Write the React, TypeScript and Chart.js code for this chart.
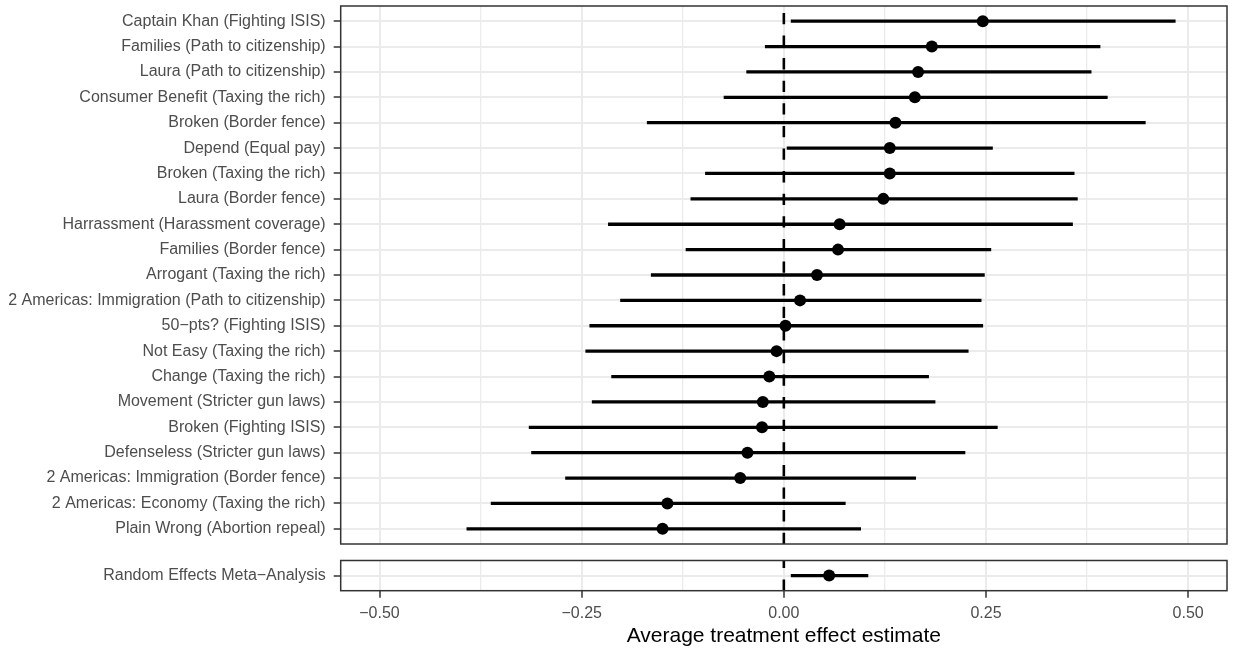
import React, { useEffect, useRef } from "react";
import { Chart, registerables } from "chart.js";

Chart.register(...registerables);

const FONT = "'Liberation Sans', Arial, Helvetica, sans-serif";
const AXIS_TEXT = "#4D4D4D";
const GRID = "#EBEBEB";
const DARK = "#333333";

const studyLabels = [
  "Captain Khan (Fighting ISIS)",
  "Families (Path to citizenship)",
  "Laura (Path to citizenship)",
  "Consumer Benefit (Taxing the rich)",
  "Broken (Border fence)",
  "Depend (Equal pay)",
  "Broken (Taxing the rich)",
  "Laura (Border fence)",
  "Harrassment (Harassment coverage)",
  "Families (Border fence)",
  "Arrogant (Taxing the rich)",
  "2 Americas: Immigration (Path to citizenship)",
  "50\u2212pts? (Fighting ISIS)",
  "Not Easy (Taxing the rich)",
  "Change (Taxing the rich)",
  "Movement (Stricter gun laws)",
  "Broken (Fighting ISIS)",
  "Defenseless (Stricter gun laws)",
  "2 Americas: Immigration (Border fence)",
  "2 Americas: Economy (Taxing the rich)",
  "Plain Wrong (Abortion repeal)",
];
const studyEstimates = [
  0.246, 0.183, 0.166, 0.162, 0.138, 0.131, 0.131, 0.123, 0.069, 0.067, 0.041,
  0.02, 0.002, -0.009, -0.018, -0.026, -0.027, -0.045, -0.054, -0.144, -0.15,
];
const studyLower = [
  0.009, -0.023, -0.046, -0.074, -0.169, 0.004, -0.097, -0.115, -0.217, -0.121,
  -0.164, -0.202, -0.24, -0.245, -0.213, -0.237, -0.315, -0.312, -0.27, -0.362,
  -0.392,
];
const studyUpper = [
  0.484, 0.391, 0.38, 0.4, 0.447, 0.258, 0.359, 0.363, 0.357, 0.256, 0.248,
  0.244, 0.246, 0.228, 0.179, 0.187, 0.264, 0.224, 0.163, 0.076, 0.095,
];

const metaLabels = ["Random Effects Meta\u2212Analysis"];
const metaEstimates = [0.056];
const metaLower = [0.009];
const metaUpper = [0.104];

const xMajorTicks = [-0.5, -0.25, 0, 0.25, 0.5];
const xMajorTickLabels = ["\u22120.50", "\u22120.25", "0.00", "0.25", "0.50"];
const xMinorTicks = [-0.375, -0.125, 0.125, 0.375];
const xTitle = "Average treatment effect estimate";
const X_MIN = -0.548;
const X_MAX = 0.548;
const Y_EXPAND = 0.6;

const majorIndex = (v: number) =>
  xMajorTicks.findIndex((m) => Math.abs(m - v) < 1e-9);

const panelBorder = {
  id: "panelBorder",
  afterDraw(chart: any) {
    const { ctx, chartArea: a } = chart;
    ctx.save();
    ctx.strokeStyle = DARK;
    ctx.lineWidth = 1.5;
    ctx.strokeRect(a.left, a.top, a.right - a.left, a.bottom - a.top);
    ctx.restore();
  },
};

function buildConfig(
  labels: string[],
  est: number[],
  lo: number[],
  hi: number[],
  showX: boolean,
  padding: { top: number; right: number; bottom: number; left: number }
): any {
  const n = labels.length;
  return {
    type: "scatter",
    data: {
      datasets: [
        {
          type: "scatter",
          data: est.map((v, i) => ({ x: v, y: i + 1 })),
          pointRadius: 6,
          pointHoverRadius: 6,
          pointBackgroundColor: "#000000",
          pointBorderWidth: 0,
          order: 0,
        },
        {
          type: "bar",
          indexAxis: "y",
          data: lo.map((l, i) => ({ x: [l, hi[i]], y: i + 1 })),
          backgroundColor: "#000000",
          borderWidth: 0,
          barThickness: 2.6,
          grouped: false,
          order: 1,
        },
        {
          type: "line",
          data: [
            { x: 0, y: n + Y_EXPAND },
            { x: 0, y: 1 - Y_EXPAND },
          ],
          borderColor: "#000000",
          borderWidth: 2.6,
          borderDash: [11.3, 11.3],
          pointRadius: 0,
          fill: false,
          order: 2,
        },
      ],
    },
    options: {
      responsive: false,
      animation: false,
      devicePixelRatio: 1,
      layout: { padding },
      plugins: {
        legend: { display: false },
        tooltip: { enabled: false },
        title: { display: false },
      },
      events: [],
      scales: {
        x: {
          type: "linear",
          min: X_MIN,
          max: X_MAX,
          offset: false,
          beginAtZero: false,
          afterBuildTicks: (s: any) => {
            s.ticks = [...xMajorTicks, ...xMinorTicks]
              .sort((a, b) => a - b)
              .map((v) => ({ value: v }));
          },
          afterFit: (s: any) => {
            s.height = showX ? 58.3 : 0;
            s.paddingLeft = 0;
            s.paddingRight = 0;
          },
          ticks: {
            display: showX,
            autoSkip: false,
            maxRotation: 0,
            padding: 6,
            color: AXIS_TEXT,
            font: { family: FONT, size: 16 },
            callback: (v: number) => {
              const k = majorIndex(v);
              return k >= 0 ? xMajorTickLabels[k] : "";
            },
          },
          grid: {
            color: GRID,
            offset: false,
            lineWidth: (c: any) =>
              c.tick && majorIndex(c.tick.value) >= 0 ? 2 : 1.3,
            drawTicks: showX,
            tickLength: 7,
            tickWidth: 1.5,
            tickColor: (c: any) =>
              c.tick && majorIndex(c.tick.value) >= 0 ? DARK : "rgba(0,0,0,0)",
          },
          border: { display: false },
          title: {
            display: showX,
            text: xTitle,
            color: "#000000",
            font: { family: FONT, size: 21 },
            padding: { top: 0, bottom: 0 },
          },
        },
        y: {
          type: "linear",
          reverse: true,
          min: 1 - Y_EXPAND,
          max: n + Y_EXPAND,
          offset: false,
          afterBuildTicks: (s: any) => {
            s.ticks = labels.map((_, i) => ({ value: i + 1 }));
          },
          afterFit: (s: any) => {
            s.width = 340.7;
            s.paddingTop = 0;
            s.paddingBottom = 0;
          },
          ticks: {
            autoSkip: false,
            padding: 8,
            color: AXIS_TEXT,
            font: { family: FONT, size: 16 },
            callback: (v: number) => labels[Math.round(v) - 1] ?? "",
          },
          grid: {
            color: GRID,
            lineWidth: 2,
            offset: false,
            drawTicks: true,
            tickLength: 7,
            tickWidth: 1.5,
            tickColor: DARK,
          },
          border: { display: false },
        },
      },
    },
    plugins: [panelBorder],
  };
}

export default function App() {
  const topRef = useRef<HTMLCanvasElement>(null);
  const botRef = useRef<HTMLCanvasElement>(null);

  useEffect(() => {
    const c1 = new Chart(
      topRef.current as HTMLCanvasElement,
      buildConfig(studyLabels, studyEstimates, studyLower, studyUpper, false, {
        top: 4.7,
        right: 4.7,
        bottom: 4.7,
        left: 0,
      })
    );
    const c2 = new Chart(
      botRef.current as HTMLCanvasElement,
      buildConfig(metaLabels, metaEstimates, metaLower, metaUpper, true, {
        top: 10.5,
        right: 4.7,
        bottom: 0,
        left: 0,
      })
    );
    return () => {
      c1.destroy();
      c2.destroy();
    };
  }, []);

  return (
    <div
      style={{
        position: "absolute",
        left: 0,
        top: 0,
        width: 1233,
        height: 649,
        background: "#ffffff",
      }}
    >
      <canvas
        ref={topRef}
        width={1233}
        height={550}
        style={{ position: "absolute", left: 0, top: 0 }}
      />
      <canvas
        ref={botRef}
        width={1233}
        height={99}
        style={{ position: "absolute", left: 0, top: 550 }}
      />
    </div>
  );
}
